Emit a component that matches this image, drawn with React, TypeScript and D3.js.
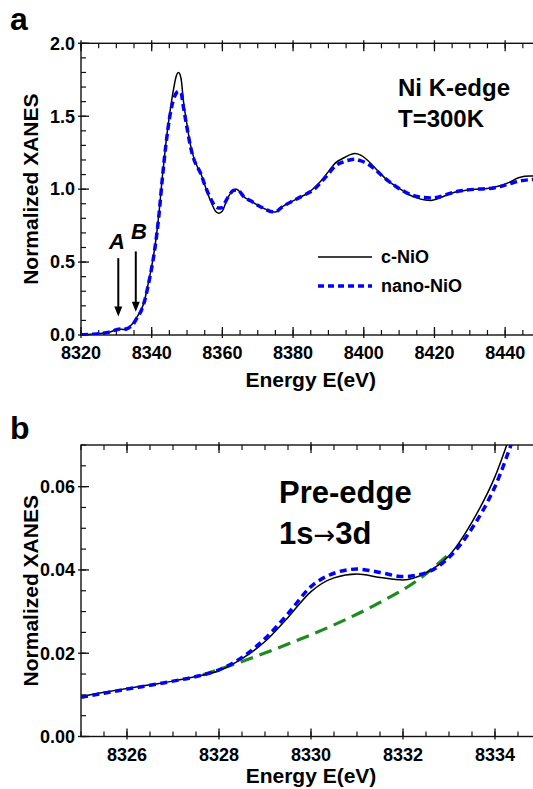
import React from 'react';
import * as d3 from 'd3';

// panel a: full XANES spectra
const energyA = [8320, 8323, 8326, 8328, 8330, 8331, 8332, 8333, 8334, 8335, 8336, 8337, 8338, 8339, 8340, 8341, 8342, 8343, 8344, 8345, 8346, 8347, 8347.6, 8348.3, 8349, 8350, 8351, 8352, 8353, 8354, 8355, 8356, 8357, 8358, 8359, 8360, 8361, 8362, 8363, 8364, 8365, 8366, 8368, 8370, 8372, 8374, 8375, 8377, 8380, 8382, 8384, 8386, 8388, 8390, 8392, 8394, 8396, 8397.5, 8399, 8401, 8403, 8405, 8407, 8409, 8411, 8413, 8415, 8417, 8419, 8421, 8423, 8426, 8429, 8432, 8435, 8438, 8441, 8444, 8447, 8450];
const cNiOA = [0.003, 0.006, 0.012, 0.019, 0.035, 0.040, 0.038, 0.044, 0.063, 0.09, 0.13, 0.17, 0.24, 0.35, 0.47, 0.62, 0.82, 1.08, 1.31, 1.50, 1.66, 1.78, 1.80, 1.76, 1.60, 1.44, 1.30, 1.21, 1.15, 1.10, 1.03, 0.96, 0.90, 0.85, 0.835, 0.85, 0.91, 0.96, 0.99, 1.0, 0.98, 0.95, 0.92, 0.89, 0.865, 0.845, 0.843, 0.88, 0.92, 0.945, 0.97, 1.01, 1.06, 1.12, 1.18, 1.21, 1.235, 1.245, 1.235, 1.20, 1.15, 1.10, 1.055, 1.02, 0.99, 0.96, 0.94, 0.927, 0.923, 0.935, 0.955, 0.98, 0.993, 1.0, 1.005, 1.02, 1.045, 1.08, 1.09, 1.09];
const nanoNiOA = [0.002, 0.005, 0.011, 0.020, 0.036, 0.041, 0.039, 0.043, 0.058, 0.083, 0.125, 0.165, 0.235, 0.34, 0.46, 0.61, 0.81, 1.07, 1.30, 1.48, 1.60, 1.66, 1.67, 1.66, 1.56, 1.42, 1.29, 1.20, 1.15, 1.10, 1.03, 0.97, 0.92, 0.88, 0.87, 0.875, 0.92, 0.96, 0.99, 0.995, 0.98, 0.95, 0.92, 0.89, 0.865, 0.845, 0.845, 0.88, 0.92, 0.945, 0.97, 1.0, 1.05, 1.105, 1.16, 1.185, 1.20, 1.205, 1.195, 1.175, 1.14, 1.095, 1.055, 1.02, 0.99, 0.965, 0.95, 0.942, 0.94, 0.945, 0.96, 0.982, 0.993, 1.0, 1.003, 1.015, 1.035, 1.055, 1.065, 1.07];

// panel b: pre-edge zoom
const energyB = [8325, 8325.5, 8326, 8326.5, 8327, 8327.5, 8328, 8328.5, 8329, 8329.5, 8330, 8330.5, 8331, 8331.5, 8332, 8332.5, 8333, 8333.5, 8334, 8334.5, 8335];
const cNiOB = [0.0096, 0.0106, 0.0115, 0.0124, 0.0133, 0.0144, 0.0158, 0.0187, 0.0228, 0.0286, 0.0348, 0.0381, 0.0390, 0.0382, 0.0376, 0.0393, 0.0434, 0.0515, 0.0624, 0.0780, 0.095];
const nanoNiOB = [0.0094, 0.0104, 0.0114, 0.0123, 0.0133, 0.0144, 0.0160, 0.0190, 0.0235, 0.0295, 0.0360, 0.0392, 0.0402, 0.0394, 0.0384, 0.0393, 0.0430, 0.0500, 0.0600, 0.0745, 0.088];
const bgEnergy = [8327.65, 8328.5, 8329.5, 8330.5, 8331.5, 8332.3, 8333.0];
const bgValue = [0.0148, 0.0180, 0.0222, 0.0268, 0.0322, 0.0374, 0.0438];

const FONT = '"Liberation Sans", Arial, Helvetica, sans-serif';

type Pt = [number, number];
const zip = (xs: number[], ys: number[]): Pt[] => xs.map((x, i) => [x, ys[i]]);

function Frame({ x, y, xMajor, xMinor, yMajor, yMinor, yFmt, clipId }: any) {
  const [x0, x1] = x.range();
  const [y0, y1] = y.range(); // bottom, top
  const c = '#111';
  return (
    <g>
      <clipPath id={clipId}>
        <rect x={x0} y={y1} width={x1 - x0} height={y0 - y1} />
      </clipPath>
      <rect x={x0} y={y1} width={x1 - x0} height={y0 - y1} fill="none" stroke={c} strokeWidth={1.4} />
      {xMinor.map((v: number) => (
        <g key={'xm' + v}>
          <line x1={x(v)} x2={x(v)} y1={y0} y2={y0 - 5} stroke={c} strokeWidth={1.2} />
          <line x1={x(v)} x2={x(v)} y1={y1} y2={y1 + 5} stroke={c} strokeWidth={1.2} />
        </g>
      ))}
      {xMajor.map((v: number) => (
        <g key={'xM' + v}>
          <line x1={x(v)} x2={x(v)} y1={y0 + 3} y2={y0 - 8} stroke={c} strokeWidth={1.3} />
          <line x1={x(v)} x2={x(v)} y1={y1 - 3} y2={y1 + 8} stroke={c} strokeWidth={1.3} />
          <text x={x(v)} y={y0 + 24} textAnchor="middle" fontSize={18} fontWeight="bold" fontFamily={FONT}>{v}</text>
        </g>
      ))}
      {yMinor.map((v: number) => (
        <line key={'ym' + v} x1={x0} x2={x0 + 5} y1={y(v)} y2={y(v)} stroke={c} strokeWidth={1.2} />
      ))}
      {yMajor.map((v: number) => (
        <g key={'yM' + v}>
          <line x1={x0 - 3} x2={x0 + 8} y1={y(v)} y2={y(v)} stroke={c} strokeWidth={1.3} />
          <text x={x0 - 6} y={y(v)} dy="0.35em" textAnchor="end" fontSize={18} fontWeight="bold" fontFamily={FONT}>{d3.format(yFmt)(v)}</text>
        </g>
      ))}
      <text x={(x0 + x1) / 2} y={y0 + (clipId === 'ca' ? 52 : 46)} textAnchor="middle" fontSize={21} fontWeight="bold" fontFamily={FONT}>Energy E(eV)</text>
      <text transform={`translate(38,${(y0 + y1) / 2}) rotate(-90)`} textAnchor="middle" fontSize={21} fontWeight="bold" fontFamily={FONT}>Normalized XANES</text>
    </g>
  );
}

export default function App() {
  const xa = d3.scaleLinear().domain([8320, 8450]).range([81, 540.5]);
  const ya = d3.scaleLinear().domain([0, 2]).range([335, 43.3]);
  const xb = d3.scaleLinear().domain([8325, 8335]).range([81, 541]);
  const yb = d3.scaleLinear().domain([0, 0.07]).range([736.5, 445]);

  const lineA = d3.line<Pt>().x(d => xa(d[0])).y(d => ya(d[1])).curve(d3.curveMonotoneX);
  const lineB = d3.line<Pt>().x(d => xb(d[0])).y(d => yb(d[1])).curve(d3.curveMonotoneX);

  const blue = '#0000ff';
  const green = '#1f8a1f';

  const arrow = (e: number, vTop: number, vTip: number) => {
    const X = xa(e), T = ya(vTop), P = ya(vTip);
    return (
      <g>
        <line x1={X} x2={X} y1={T} y2={P - 8} stroke="#000" strokeWidth={2} />
        <path d={`M${X - 4},${P - 10} L${X + 4},${P - 10} L${X},${P} Z`} fill="#000" />
      </g>
    );
  };

  return (
    <div style={{ position: 'absolute', left: 0, top: 0 }}>
      <svg width={533} height={789} style={{ display: 'block', background: '#fff' }}>
        {/* panel a */}
        <text x={10} y={30} fontSize={32} fontWeight="bold" fontFamily={FONT}>a</text>
        <Frame x={xa} y={ya} clipId="ca"
          xMajor={d3.range(8320, 8451, 20)} xMinor={d3.range(8320, 8451, 5)}
          yMajor={d3.range(0, 2.01, 0.5)} yMinor={d3.range(0, 2.01, 0.1)} yFmt=".1f" />
        <g clipPath="url(#ca)">
          <path d={lineA(zip(energyA, cNiOA)) || ''} fill="none" stroke="#000" strokeWidth={1.5} />
          <path d={lineA(zip(energyA, nanoNiOA)) || ''} fill="none" stroke={blue} strokeWidth={3.5} strokeDasharray="7,4" />
        </g>
        {arrow(8330.55, 0.527, 0.126)}
        {arrow(8335.5, 0.573, 0.16)}
        <text x={xa(8330.2)} y={ya(0.589)} textAnchor="middle" fontSize={22} fontWeight="bold" fontStyle="italic" fontFamily={FONT}>A</text>
        <text x={xa(8336.4)} y={ya(0.658)} textAnchor="middle" fontSize={22} fontWeight="bold" fontStyle="italic" fontFamily={FONT}>B</text>
        <text x={398} y={96} fontSize={24} fontWeight="bold" fontFamily={FONT}>Ni K-edge</text>
        <text x={398} y={127} fontSize={24} fontWeight="bold" fontFamily={FONT}>T=300K</text>
        <line x1={318} x2={372} y1={257} y2={257} stroke="#000" strokeWidth={1.5} />
        <text x={381} y={263} fontSize={18} fontWeight="bold" fontFamily={FONT}>c-NiO</text>
        <line x1={318} x2={372} y1={286} y2={286} stroke={blue} strokeWidth={3.5} strokeDasharray="6,4" />
        <text x={381} y={292} fontSize={18} fontWeight="bold" fontFamily={FONT}>nano-NiO</text>

        {/* panel b */}
        <text x={10} y={439} fontSize={32} fontWeight="bold" fontFamily={FONT}>b</text>
        <Frame x={xb} y={yb} clipId="cb"
          xMajor={d3.range(8326, 8335, 2)} xMinor={d3.range(8325, 8335.01, 0.5)}
          yMajor={[0, 0.02, 0.04, 0.06]} yMinor={d3.range(0, 0.0701, 0.005)} yFmt=".2f" />
        <g clipPath="url(#cb)">
          <path d={lineB(zip(bgEnergy, bgValue)) || ''} fill="none" stroke={green} strokeWidth={3.2} strokeDasharray="13,7" />
          <path d={lineB(zip(energyB, cNiOB)) || ''} fill="none" stroke="#000" strokeWidth={1.5} />
          <path d={lineB(zip(energyB, nanoNiOB)) || ''} fill="none" stroke={blue} strokeWidth={3.5} strokeDasharray="7,4.5" />
        </g>
        <text x={279} y={503} fontSize={31} fontWeight="bold" fontFamily={FONT}>Pre-edge</text>
        <text x={279} y={544} fontSize={31} fontWeight="bold" fontFamily={FONT}>
          1s<tspan fontFamily='"DejaVu Sans", sans-serif' fontWeight="normal" fontSize={26}>→</tspan>3d
        </text>
      </svg>
    </div>
  );
}
